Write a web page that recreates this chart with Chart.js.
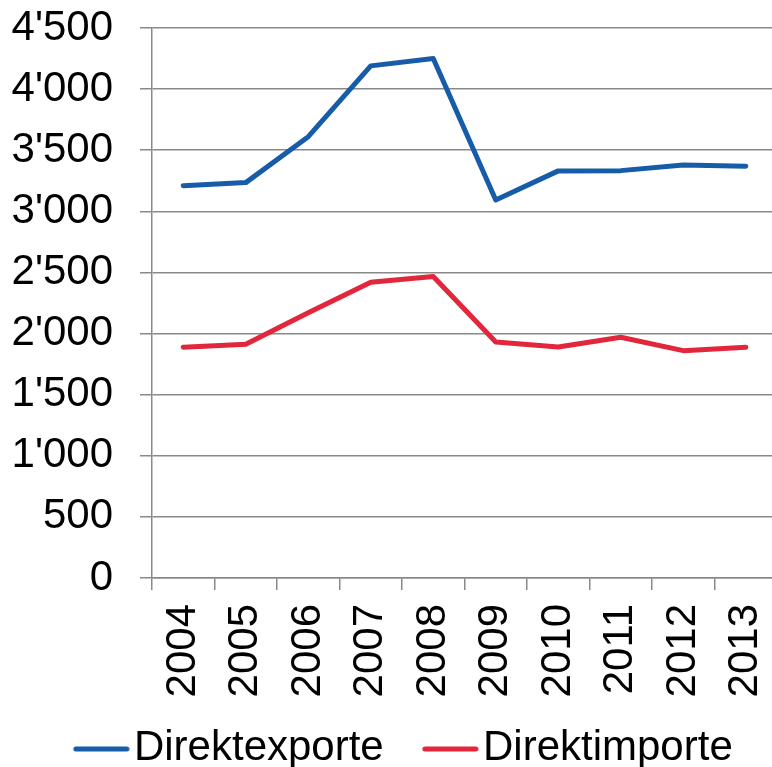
<!DOCTYPE html>
<html>
<head>
<meta charset="utf-8">
<script src="https://cdn.jsdelivr.net/npm/chart.js@4.4.1/dist/chart.umd.min.js"></script>
<style>
html, body { margin: 0; padding: 0; overflow: hidden; background: #ffffff; }
#wrap { position: absolute; left: 0; top: 0; width: 790px; height: 780px; }
</style>
</head>
<body>
<div id="wrap"><canvas id="c" width="790" height="780"></canvas></div>
<script>
const years = ['2004','2005','2006','2007','2008','2009','2010','2011','2012','2013'];
const direktexporte = [3210, 3235, 3611, 4190, 4250, 3093, 3331, 3333, 3380, 3369];
const direktimporte = [1888, 1912, 2170, 2420, 2466, 1931, 1890, 1970, 1860, 1888];
const seriesNames = ['Direktexporte', 'Direktimporte'];
const seriesColors = ['#175ca8', '#e2263c'];

const FONT = "'Liberation Sans', Arial, sans-serif";
const GRID = '#898989';

function legendImage(color) {
  const cv = document.createElement('canvas');
  cv.width = 102; cv.height = 8;
  const g = cv.getContext('2d');
  g.strokeStyle = color;
  g.lineWidth = 5;
  g.lineCap = 'round';
  g.beginPath();
  g.moveTo(48, 5);
  g.lineTo(99, 5);
  g.stroke();
  return cv;
}
const legendImgs = seriesColors.map(legendImage);

function fmt(v) {
  if (v >= 1000) {
    const th = Math.floor(v / 1000);
    const rest = String(v % 1000).padStart(3, '0');
    return th + "'" + rest;
  }
  return String(v);
}

function noPad(s) { s.paddingTop = 0; s.paddingBottom = 0; s.paddingLeft = 0; s.paddingRight = 0; }

new Chart(document.getElementById('c'), {
  type: 'line',
  data: {
    labels: years,
    datasets: [
      { label: seriesNames[0], data: direktexporte, borderColor: seriesColors[0], backgroundColor: seriesColors[0],
        borderWidth: 5, pointRadius: 0, tension: 0, borderCapStyle: 'round', borderJoinStyle: 'round', fill: false },
      { label: seriesNames[1], data: direktimporte, borderColor: seriesColors[1], backgroundColor: seriesColors[1],
        borderWidth: 5, pointRadius: 0, tension: 0, borderCapStyle: 'round', borderJoinStyle: 'round', fill: false }
    ]
  },
  options: {
    responsive: false,
    devicePixelRatio: 1,
    animation: false,
    layout: { padding: { left: 0.4, right: 13, top: 28, bottom: 1 } },
    plugins: {
      tooltip: { enabled: false },
      legend: {
        position: 'bottom',
        labels: {
          usePointStyle: true,
          pointStyleWidth: 68.3,
          padding: 10,
          color: '#000000',
          font: { family: FONT, size: 42 },
          generateLabels: (chart) => {
            const items = Chart.defaults.plugins.legend.labels.generateLabels(chart);
            items.forEach((it, i) => { it.pointStyle = legendImgs[i]; });
            return items;
          }
        }
      }
    },
    scales: {
      x: {
        offset: true,
        grid: { display: true, drawOnChartArea: false, drawTicks: true, tickLength: 12, color: GRID, lineWidth: 1.5, offset: true },
        border: { display: true, color: GRID, width: 1.5 },
        ticks: { color: '#000000', font: { family: FONT, size: 42 }, minRotation: 90, maxRotation: 90, padding: 14, autoSkip: false },
        afterFit: (s) => { s.height = 139; noPad(s); }
      },
      y: {
        min: 0, max: 4500,
        grid: { color: GRID, lineWidth: 1.5, drawTicks: true, tickLength: 12 },
        border: { display: true, color: GRID, width: 1.5 },
        ticks: { stepSize: 500, color: '#000000', font: { family: FONT, size: 42 }, padding: 27, callback: (v) => fmt(v) },
        afterFit: (s) => { s.width = 151.6; noPad(s); }
      }
    }
  }
});
</script>
</body>
</html>
